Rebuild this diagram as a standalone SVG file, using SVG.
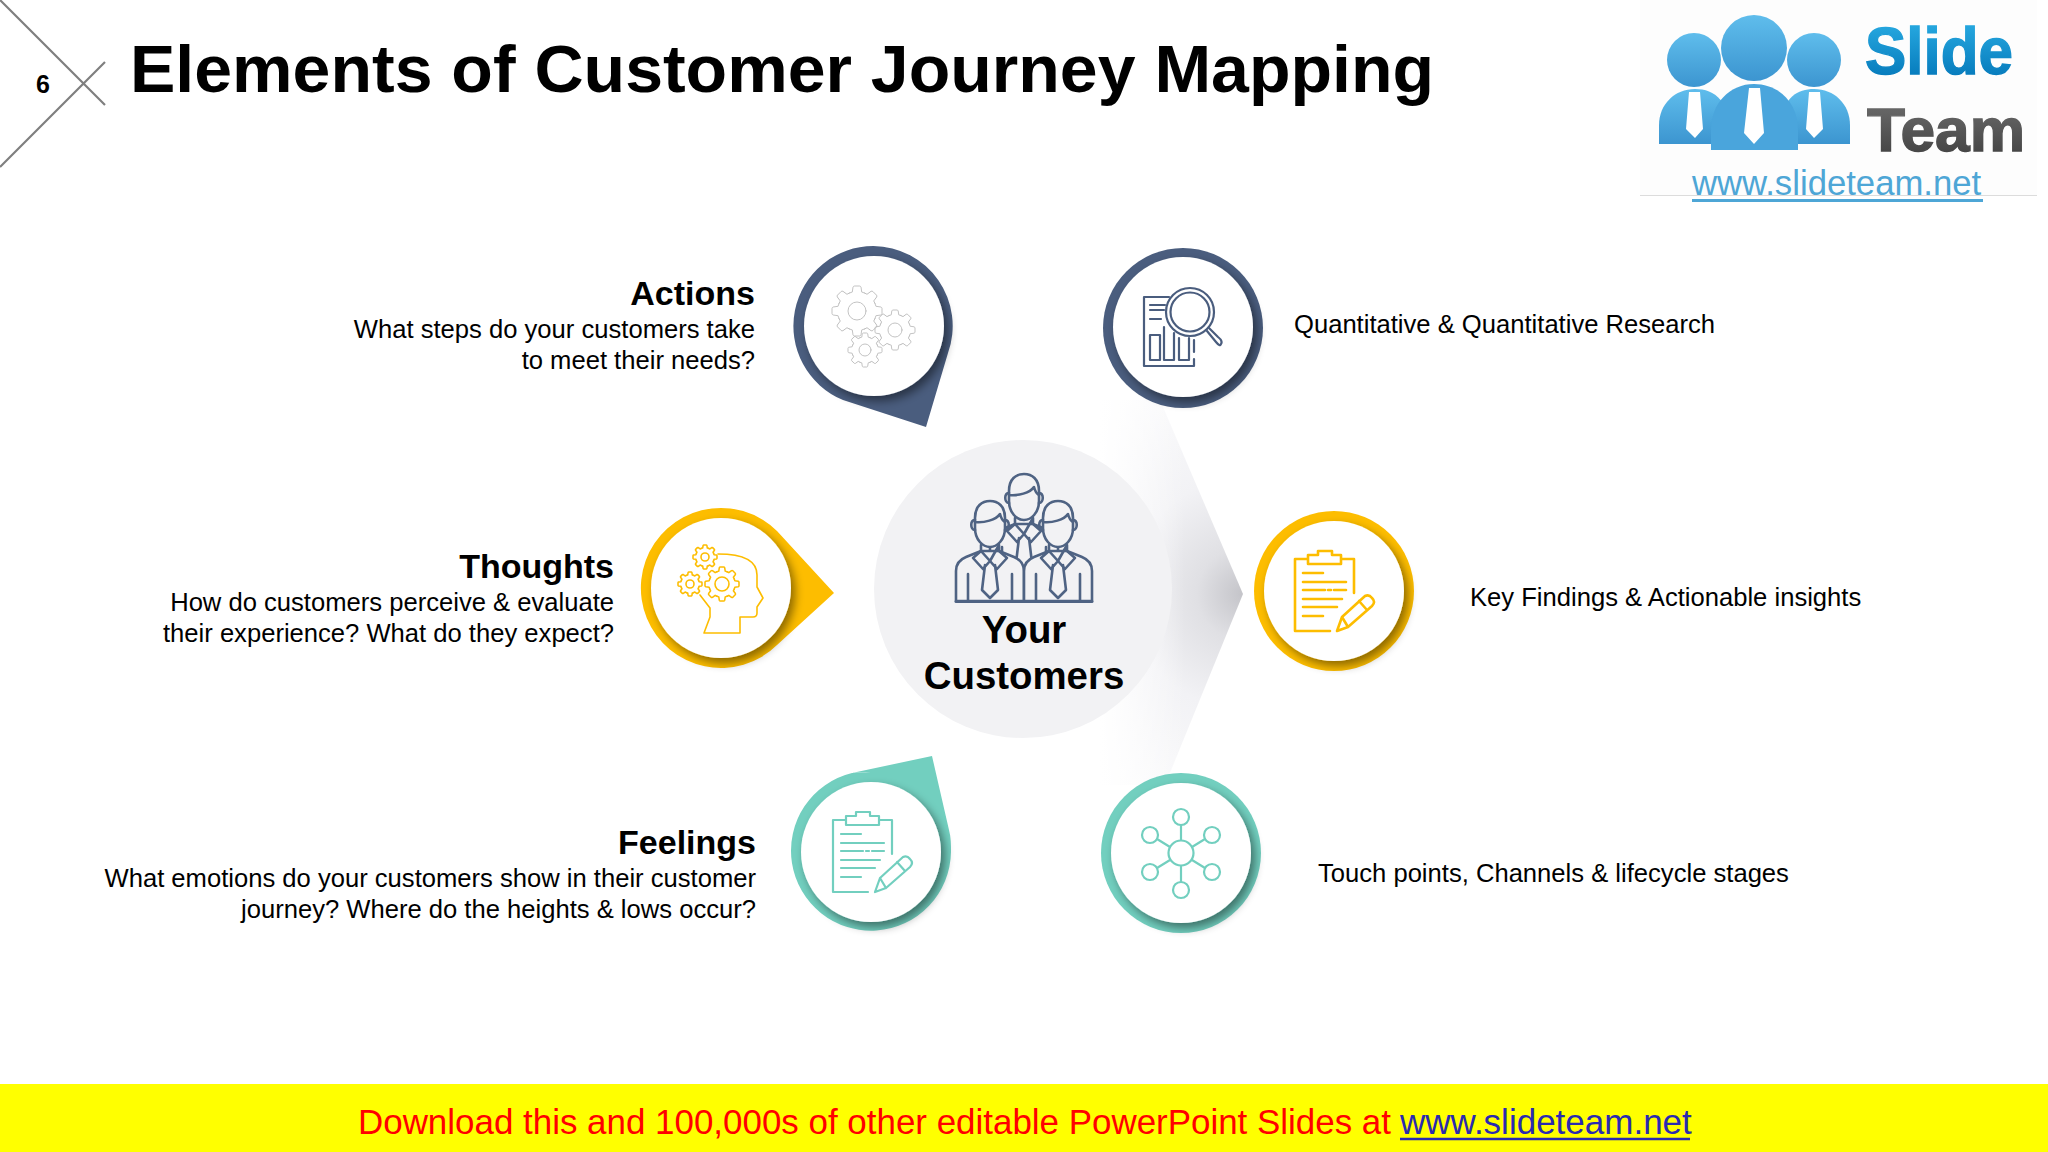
<svg xmlns="http://www.w3.org/2000/svg" width="2048" height="1152" viewBox="0 0 2048 1152">
<style>
text{font-family:"Liberation Sans",Arial,sans-serif;fill:#000}
.h{font-size:34px;font-weight:700;text-anchor:end}
.b{font-size:25.6px;text-anchor:end}
.r{font-size:25.6px}
.c{font-size:38.4px;font-weight:700;text-anchor:middle}
.ic{fill:none;stroke-linecap:round;stroke-linejoin:round}
.navy{fill:#4a5d7e}.yel{fill:#fdbd00}.teal{fill:#72cfbf}
.inner{fill:#fff;filter:url(#sh)}
</style>
<defs>
<filter id="sh" x="-30%" y="-30%" width="160%" height="160%"><feDropShadow dx="4" dy="5" stdDeviation="5" flood-color="#000" flood-opacity=".45"/></filter>
<radialGradient id="chev" gradientUnits="userSpaceOnUse" cx="1243" cy="594" r="230"><stop offset="0" stop-color="#c4c4c9"/><stop offset=".2" stop-color="#e0e0e4"/><stop offset=".5" stop-color="#f2f2f5"/><stop offset="1" stop-color="#fbfbfc"/></radialGradient>
<linearGradient id="fade"><stop offset="0" stop-color="#fff"/><stop offset="1" stop-color="#fff" stop-opacity="0"/></linearGradient>
<linearGradient id="blue" x1="0" y1="0" x2="0" y2="1"><stop offset="0" stop-color="#5fbdec"/><stop offset="1" stop-color="#3c95d0"/></linearGradient>
<linearGradient id="slide" x1="0" y1="0" x2="0" y2="1"><stop offset="0" stop-color="#2cb0e6"/><stop offset="1" stop-color="#0072b5"/></linearGradient>
<linearGradient id="team" x1="0" y1="0" x2="0" y2="1"><stop offset="0" stop-color="#707070"/><stop offset="1" stop-color="#3e3e3e"/></linearGradient>
<path id="tooth" d="M7.21-2.98L7.57-1.89 9.55-1.6Q10-1.4 10-1V1Q10 1.4 9.55 1.6L7.57 1.89 7.21 2.98"/>
<g id="gear"><use href="#tooth"/><use href="#tooth" transform="rotate(45)"/><use href="#tooth" transform="rotate(90)"/><use href="#tooth" transform="rotate(135)"/><use href="#tooth" transform="rotate(180)"/><use href="#tooth" transform="rotate(225)"/><use href="#tooth" transform="rotate(270)"/><use href="#tooth" transform="rotate(315)"/></g>
<g id="clip">
<path d="M1308 559H1295V631H1330M1341 559H1354V593M1308 555H1318V551H1332V555H1341V564H1308Z"/>
<path d="M1303 573H1323M1303 582H1346M1303 590H1325M1328 590H1331M1334 590H1346M1303 599H1342M1303 607H1337M1303 616H1323"/>
<path d="M1337 631L1342 617 1365 596Q1369 594 1372 598 1376 602 1372 606L1348 627ZM1342 617L1348 627M1359 601L1367 610"/>
</g>
<g id="man" stroke-width="2.6">
<path fill="#f2f2f4" d="M-34 601V571C-34 563-29 559-24 557L-9 551H9L24 557C29 559 34 563 34 571V601Z"/>
<path fill="#f2f2f4" d="M-15 518V528C-15 540-7 547 0 547S15 540 15 528V518C15 506 8 501 0 501S-15 506-15 518Z"/>
<path d="M-15 522C-6 523 6 520 10 514 11 518 13 521 15 522M-15 520C-20 519-20 530-15 530M15 520C20 519 20 530 15 530"/>
<path d="M-9 545V551L0 561 9 545V551M-9 551L-17 558-7 569 0 561 7 569 17 558 9 551"/>
<path d="M-5 565L-8 590 0 598 8 590 5 565M-22 601V574M22 601V574"/>
</g>
</defs>
<rect width="2048" height="1152" fill="#fff"/>

<g id="page-mark" stroke="#7f7f7f" stroke-width="2.2" fill="none"><path d="M0 0L105 105M0 167L105 62"/></g>
<text x="43" y="93" font-size="25" font-weight="700" text-anchor="middle">6</text>
<text id="title" x="130" y="92" font-size="66.67" font-weight="700" textLength="1304" lengthAdjust="spacingAndGlyphs">Elements of Customer Journey Mapping</text>

<g id="logo">
<rect x="1640" y="0" width="397" height="195" fill="#fdfdfd"/>
<path d="M1640 195.500H2037" stroke="#dcdcdc" stroke-width="1"/>
<circle cx="1694" cy="60" r="27" fill="url(#blue)"/>
<circle cx="1814" cy="60" r="27" fill="url(#blue)"/>
<path d="M1659 144V125C1659 104 1675 89 1695 89 1715 89 1730 100 1735 144Z" fill="url(#blue)"/>
<path d="M1850 144V125C1850 104 1834 89 1814 89 1794 89 1780 100 1775 144Z" fill="url(#blue)"/>
<circle cx="1754" cy="48" r="33" fill="url(#blue)"/>
<path d="M1711 150V130C1711 103 1730 84 1754 84 1779 84 1798 103 1798 130V150Z" fill="#4aa5dc"/>
<path d="M1749 88H1760L1764 133 1754 144 1744 133ZM1689 92H1700L1703 129 1695 138 1686 129ZM1809 92H1820L1823 129 1814 138 1806 129Z" fill="#fff"/>
<text x="1865" y="74" font-size="66" font-weight="700" style="fill:url(#slide);stroke:url(#slide);stroke-width:1.4" textLength="148" lengthAdjust="spacingAndGlyphs">Slide</text>
<text x="1867" y="151" font-size="62" font-weight="700" style="fill:url(#team);stroke:url(#team);stroke-width:1.4" textLength="158" lengthAdjust="spacingAndGlyphs">Team</text>
<text x="1692" y="195" font-size="34.7" style="fill:#4ea6d6">www.slideteam.net</text>
<path d="M1692 200.500H1983" stroke="#4ea6d6" stroke-width="3"/>
</g>

<g id="connectors">
<path d="M1100 400H1160L1243 594 1165 785H1100Z" fill="url(#chev)"/>
<rect x="1100" y="395" width="85" height="395" fill="url(#fade)"/>
</g>

<g id="center">
<circle cx="1023" cy="589" r="149" fill="#f2f2f4"/>
<g class="ic" stroke="#4f6383">
<use href="#man" transform="translate(1024,-27)"/>
<use href="#man" transform="translate(990,0)"/>
<use href="#man" transform="translate(1058,0)"/>
<path d="M956 601.500H1092" stroke-width="3"/>
</g>
<text class="c" x="1024" y="643">Your</text>
<text class="c" x="1024" y="689">Customers</text>
</g>

<g id="actions">
<path class="navy" d="M873.500 246A80 80 0 0 1 948 353L926 427 843 400A80 80 0 0 1 873.500 246Z"/>
<circle class="inner" cx="874" cy="326" r="70"/>
<g class="ic" stroke="#bcbcbc" stroke-width="1">
<use href="#gear" transform="translate(857,311) scale(2.5)" stroke-width=".36"/>
<use href="#gear" transform="translate(895,330) scale(2)" stroke-width=".45"/>
<use href="#gear" transform="translate(865,350) scale(1.7)" stroke-width=".53"/>
<circle cx="857" cy="311" r="9" stroke-width=".9"/><circle cx="895" cy="330" r="7" stroke-width=".9"/><circle cx="865" cy="350" r="6" stroke-width=".9"/>
</g>
<text class="h" x="755" y="305">Actions</text>
<text class="b" x="755" y="338">What steps do your customers take</text>
<text class="b" x="755" y="369">to meet their needs?</text>
</g>

<g id="thoughts">
<path class="yel" d="M721 508A80 80 0 0 1 777 531L834 593 777 645A80 80 0 1 1 721 508Z"/>
<circle class="inner" cx="721" cy="588" r="70"/>
<g class="ic" stroke="#fdbd00" stroke-width="1.6">
<path d="M704 633H740V617H753Q757 617 757 613V607L763 598 757 587V575C757 563 747 554 718 554M704 633L710 617V608L700 595"/>
<use href="#gear" transform="translate(722,584) scale(1.7)" stroke-width=".9"/>
<use href="#gear" transform="translate(705,557) scale(1.2)" stroke-width="1.3"/>
<use href="#gear" transform="translate(690,584) scale(1.2)" stroke-width="1.3"/>
<circle cx="722" cy="584" r="7"/><circle cx="705" cy="557" r="4"/><circle cx="690" cy="584" r="4"/>
</g>
<text class="h" x="614" y="578">Thoughts</text>
<text class="b" x="614" y="611">How do customers perceive &amp; evaluate</text>
<text class="b" x="614" y="642">their experience? What do they expect?</text>
</g>

<g id="feelings">
<path class="teal" d="M871 772C864 772 858 772 852 773L932 756 949 830C951 837 951 845 951 852A80 80 0 1 1 852 773Z"/>
<circle class="inner" cx="871" cy="852" r="70"/>
<use href="#clip" class="ic" stroke="#72cfbf" stroke-width="2.2" transform="translate(-462,261)"/>
<text class="h" x="756" y="854">Feelings</text>
<text class="b" x="756" y="887">What emotions do your customers show in their customer</text>
<text class="b" x="756" y="918">journey? Where do the heights &amp; lows occur?</text>
</g>

<g id="research">
<circle class="navy" cx="1183" cy="328" r="80"/>
<circle class="inner" cx="1183" cy="327" r="70"/>
<g class="ic" stroke="#4a5d7e" stroke-width="2.2">
<path d="M1169 297H1144V366H1194V359M1194 352V340M1150 305H1165M1150 310H1164M1150 319H1161"/>
<path d="M1150 335H1160V360H1150ZM1164 327V360H1174V333M1179 338V360H1189V338"/>
<circle cx="1190" cy="312" r="24"/><circle cx="1190" cy="312" r="19.500"/>
<path d="M1207 331L1216 342Q1220 347 1221 344 1223 341 1218 337L1209 328"/>
</g>
<text class="r" x="1294" y="333">Quantitative &amp; Quantitative Research</text>
</g>

<g id="findings">
<circle class="yel" cx="1334" cy="591" r="80"/>
<circle class="inner" cx="1334" cy="591" r="70"/>
<use href="#clip" class="ic" stroke="#fdbd00" stroke-width="2.6"/>
<text class="r" x="1470" y="606">Key Findings &amp; Actionable insights</text>
</g>

<g id="touch">
<circle class="teal" cx="1181" cy="853" r="80"/>
<circle class="inner" cx="1181" cy="853" r="70"/>
<g class="ic" stroke="#72cfbf" stroke-width="2.2">
<circle cx="1181" cy="853" r="12.500"/>
<circle cx="1181" cy="817" r="8"/><circle cx="1181" cy="890" r="8"/><circle cx="1150" cy="835" r="8"/><circle cx="1212" cy="835" r="8"/><circle cx="1150" cy="872" r="8"/><circle cx="1212" cy="872" r="8"/>
<path d="M1181 825V840M1181 866V882M1157 839L1170 847M1205 839L1192 847M1157 868L1170 860M1205 868L1192 860"/>
</g>
<text class="r" x="1318" y="882">Touch points, Channels &amp; lifecycle stages</text>
</g>

<g id="footer">
<rect x="0" y="1084" width="2048" height="68" fill="#ff0"/>
<text x="358" y="1134" font-size="35" style="fill:#f00" textLength="1033" lengthAdjust="spacingAndGlyphs">Download this and 100,000s of other editable PowerPoint Slides at</text>
<text x="1400" y="1134" font-size="35" style="fill:#2a2ab0">www.slideteam.net</text>
<path d="M1400 1139H1690" stroke="#2a2ab0" stroke-width="2.500"/>
</g>
</svg>
